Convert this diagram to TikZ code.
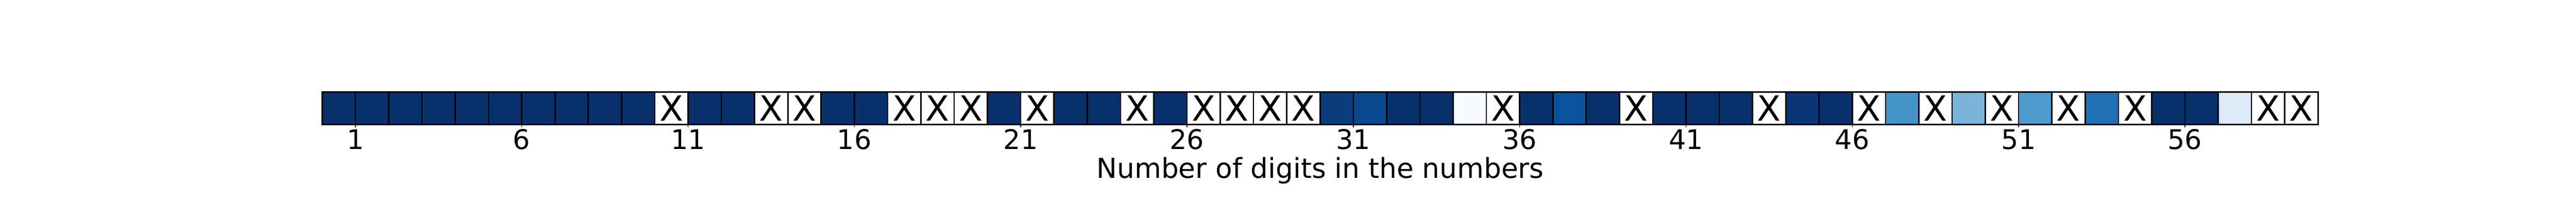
\documentclass[tikz,border=0pt]{standalone}
\usepackage{fontspec}
\setmainfont{DejaVu Sans}
\usepackage{tikz}

% Blues shades used by the cells
\definecolor{bl0}{HTML}{08306B}
\definecolor{bla}{HTML}{0A3C7E}
\definecolor{blb}{HTML}{09488E}
\definecolor{blc}{HTML}{08529E}
\definecolor{bld}{HTML}{093676}
\definecolor{ble}{HTML}{4594C8}
\definecolor{blf}{HTML}{79B5D9}
\definecolor{blg}{HTML}{4F9BCB}
\definecolor{blh}{HTML}{2171B5}
\definecolor{bli}{HTML}{DCE9F6}
\definecolor{blj}{HTML}{F7FBFF}

\tikzset{
    cellbox/.style={draw=black, line width=0.9pt},
    missmark/.style={font=\fontsize{23}{23}\selectfont, inner sep=0pt},
    ticklabel/.style={font=\fontsize{17.9}{18}\selectfont, anchor=base, inner sep=0pt},
}

\begin{document}
\begin{tikzpicture}
    \useasboundingbox (0,0) rectangle (60,5);

    \begin{scope}[shift={(7.503,2.10)}, x=0.7748cm, y=0.757cm]
        % Cells, one per number of digits (white = no data)
        \foreach \c [count=\i] in {bl0,bl0,bl0,bl0,bl0,bl0,bl0,bl0,bl0,bl0,
                                  white,bl0,bl0,white,white,bl0,bl0,white,white,white,
                                  bl0,white,bl0,bl0,white,bl0,white,white,white,white,
                                  bla,blb,bl0,bl0,blj,white,bl0,blc,bl0,white,
                                  bl0,bl0,bl0,white,bld,bl0,white,ble,white,blf,
                                  white,blg,white,blh,white,bl0,bl0,bli,white,white} {
            \fill[\c] (\i-1,0) rectangle (\i,1);
            \draw[cellbox] (\i-1,0) rectangle (\i,1);
        }

        % Crosses in the empty cells
        \foreach \i in {11,14,15,18,19,20,22,25,27,28,29,30,36,40,44,47,49,51,53,55,59,60} {
            \node[missmark] (x\i) at (\i-0.5,0.5) {X};
        }

        % Ticks and labels on the x axis
        \foreach \i in {1,6,...,56} {
            \coordinate (k\i) at (\i,0);
            \draw[line width=0.5pt] (k\i) -- ++(0,-0.09);
            \node[ticklabel] (t\i) at (\i,-0.755) {\i};
        }
    \end{scope}

    % Axis title
    \node[ticklabel, font=\fontsize{18.2}{18}\selectfont] (xlabel) at (30.75,0.85) {Number of digits in the numbers};

\end{tikzpicture}
\end{document}
